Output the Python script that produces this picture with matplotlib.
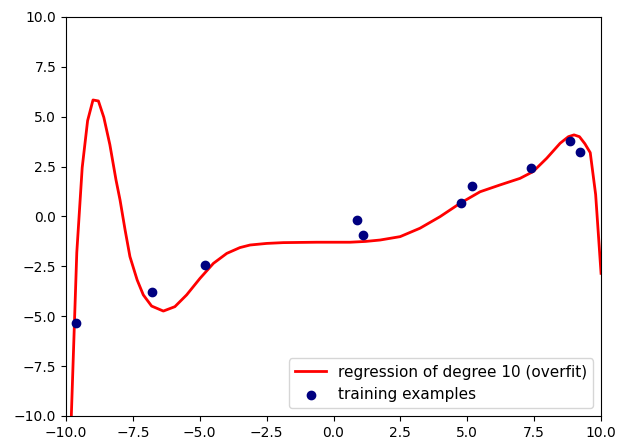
import numpy as np
import matplotlib
matplotlib.use('Agg')
from matplotlib import pyplot as plt

# training points
x_train = [-9.63, -6.77, -4.79, 0.89, 1.11, 4.75, 5.16, 7.40, 8.83, 9.21]
y_train = [-5.34, -3.80, -2.43, -0.19, -0.93, 0.69, 1.51, 2.41, 3.78, 3.25]

# regression curve
x_curve = [-10.0, -9.798, -9.596, -9.394, -9.192, -8.99, -8.788, -8.586, -8.36, -8.13,
           -7.98, -7.79, -7.61, -7.34, -7.11, -6.80, -6.36, -5.93, -5.49, -4.99,
           -4.49, -3.99, -3.50, -3.12, -2.50, -1.88, -0.63, 0.62, 1.20, 1.74,
           2.49, 3.23, 3.98, 4.73, 5.48, 6.22, 6.97, 7.46, 7.97, 8.47,
           8.78, 8.99, 9.192, 9.394, 9.596, 9.798, 10.0]
y_curve = [-30.0, -9.9, -1.8, 2.45, 4.80, 5.84, 5.79, 4.97, 3.60, 1.83,
           0.83, -0.68, -2.01, -3.18, -3.93, -4.49, -4.74, -4.52, -3.93, -3.10,
           -2.35, -1.85, -1.56, -1.43, -1.35, -1.31, -1.29, -1.29, -1.25, -1.18,
           -1.01, -0.59, -0.01, 0.66, 1.24, 1.58, 1.91, 2.25, 2.92, 3.67,
           4.00, 4.09, 4.00, 3.65, 3.20, 1.10, -2.85]

fig = plt.figure(figsize=(6.19, 4.41), dpi=100)
fig.subplots_adjust(left=0.1066, right=0.971, top=0.9615, bottom=0.0567)
ax = fig.add_subplot(111)

ax.plot(x_curve, y_curve, color='red', lw=2, label='regression of degree 10 (overfit)')
ax.scatter(x_train, y_train, color='navy', label='training examples', zorder=3)

ax.set_xlim(-10, 10)
ax.set_ylim(-10, 10)
ax.legend(loc='lower right', fontsize=11)

plt.savefig('out.png', dpi=100)
